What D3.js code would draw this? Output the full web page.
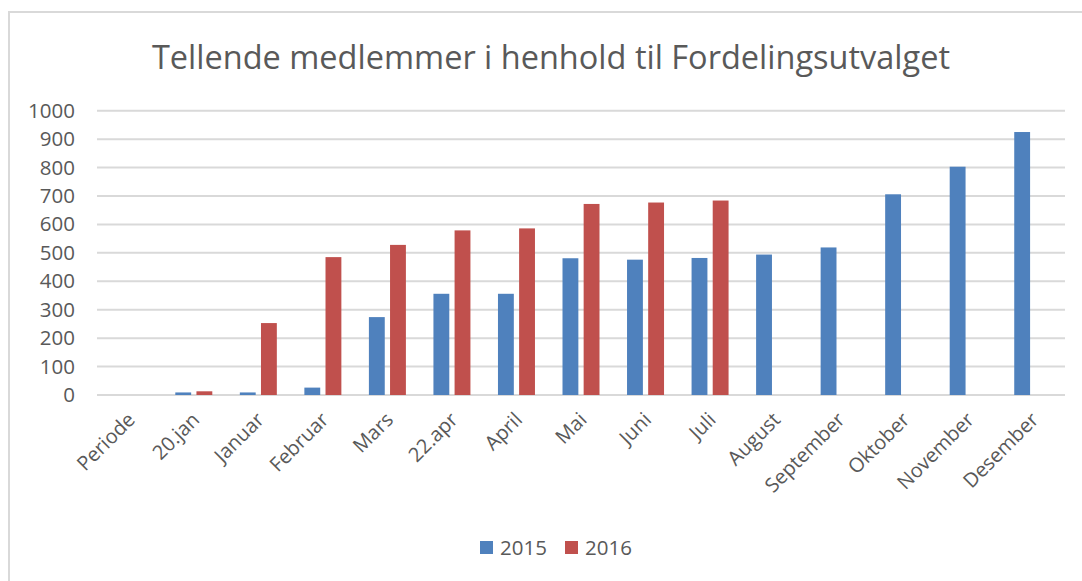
<!DOCTYPE html>
<html lang="en">
  <head>
    <meta charset="utf-8">
    <title>Tellende medlemmer</title>
    <script src="https://cdn.jsdelivr.net/npm/d3@7"></script>
    <style>
      body { margin: 0; background: #fff; }
      svg text { font-family: "Open Sans", sans-serif; fill: #595959; }
      .grid line { stroke: #d9d9d9; stroke-width: 2px; }
    </style>
  </head>
  <body>
    <svg id="chart"></svg>
    <script>
      // data
      var categories = ["Periode", "20.jan", "Januar", "Februar", "Mars", "22.apr", "April",
                        "Mai", "Juni", "Juli", "August", "September", "Oktober", "November", "Desember"];
      var seriesNames = ["2015", "2016"];
      var values2015 = [null, 9, 9, 26, 274, 356, 356, 481, 476, 482, 494, 519, 706, 803, 925];
      var values2016 = [null, 13, 253, 485, 528, 579, 586, 672, 677, 684, null, null, null, null, null];
      var yTicks = [0, 100, 200, 300, 400, 500, 600, 700, 800, 900, 1000];
      var colors = ["#4f81bd", "#c0504d"];

      var W = 1082, H = 581;
      var svg = d3.select("#chart").attr("width", W).attr("height", H);

      // outer frame
      svg.append("rect")
          .attr("x", 9).attr("y", 12)
          .attr("width", W + 20).attr("height", H + 20)
          .attr("fill", "#fff").attr("stroke", "#d9d9d9").attr("stroke-width", 2);

      svg.append("text")
          .attr("x", 551).attr("y", 69)
          .attr("text-anchor", "middle")
          .style("font-size", "32.5px")
          .text("Tellende medlemmer i henhold til Fordelingsutvalget");

      var plotLeft = 97, plotRight = 1065, plotTop = 110.7, plotBottom = 395;

      var x = d3.scaleBand().domain(categories).range([plotLeft, plotRight]);
      var x1 = d3.scaleBand().domain(seriesNames).range([0, 37]).paddingInner(0.25);
      var y = d3.scaleLinear().domain([0, 1000]).range([plotBottom, plotTop]);

      // gridlines
      svg.append("g").attr("class", "grid")
        .selectAll("line").data(yTicks).join("line")
          .attr("x1", plotLeft).attr("x2", plotRight)
          .attr("y1", function(d) { return y(d); })
          .attr("y2", function(d) { return y(d); });

      // y axis labels
      svg.append("g")
        .selectAll("text").data(yTicks).join("text")
          .attr("x", 75).attr("y", function(d) { return y(d) + 7; })
          .attr("text-anchor", "end")
          .style("font-size", "20.5px")
          .text(function(d) { return d; });

      // bars
      var rows = categories.map(function(c, i) {
        return { cat: c, vals: [values2015[i], values2016[i]] };
      });
      var offset = (x.bandwidth() - 37) / 2;
      var groups = svg.append("g").selectAll("g").data(rows).join("g")
          .attr("transform", function(d) { return "translate(" + (x(d.cat) + offset) + ",0)"; });
      groups.selectAll("rect")
        .data(function(d) {
          return d.vals.map(function(v, j) { return { s: seriesNames[j], v: v, j: j }; })
                       .filter(function(e) { return e.v != null; });
        })
        .join("rect")
          .attr("x", function(d) { return x1(d.s); })
          .attr("width", x1.bandwidth())
          .attr("y", function(d) { return y(d.v); })
          .attr("height", function(d) { return plotBottom - y(d.v); })
          .attr("fill", function(d) { return colors[d.j]; });

      // x labels, rotated
      svg.append("g")
        .selectAll("text").data(categories).join("text")
          .attr("text-anchor", "end")
          .style("font-size", "20px")
          .attr("transform", function(d) {
            var cx = x(d) + x.bandwidth() / 2 + 7;
            return "translate(" + cx + ",421) rotate(-45)";
          })
          .text(function(d) { return d; });

      // legend
      var legend = svg.append("g").attr("transform", "translate(480,541)");
      seriesNames.forEach(function(s, i) {
        var g = legend.append("g").attr("transform", "translate(" + (i * 85) + ",0)");
        g.append("rect").attr("width", 13).attr("height", 13).attr("fill", colors[i]);
        g.append("text").attr("x", 20).attr("y", 14).style("font-size", "20.5px").text(s);
      });
    </script>
  </body>
</html>
